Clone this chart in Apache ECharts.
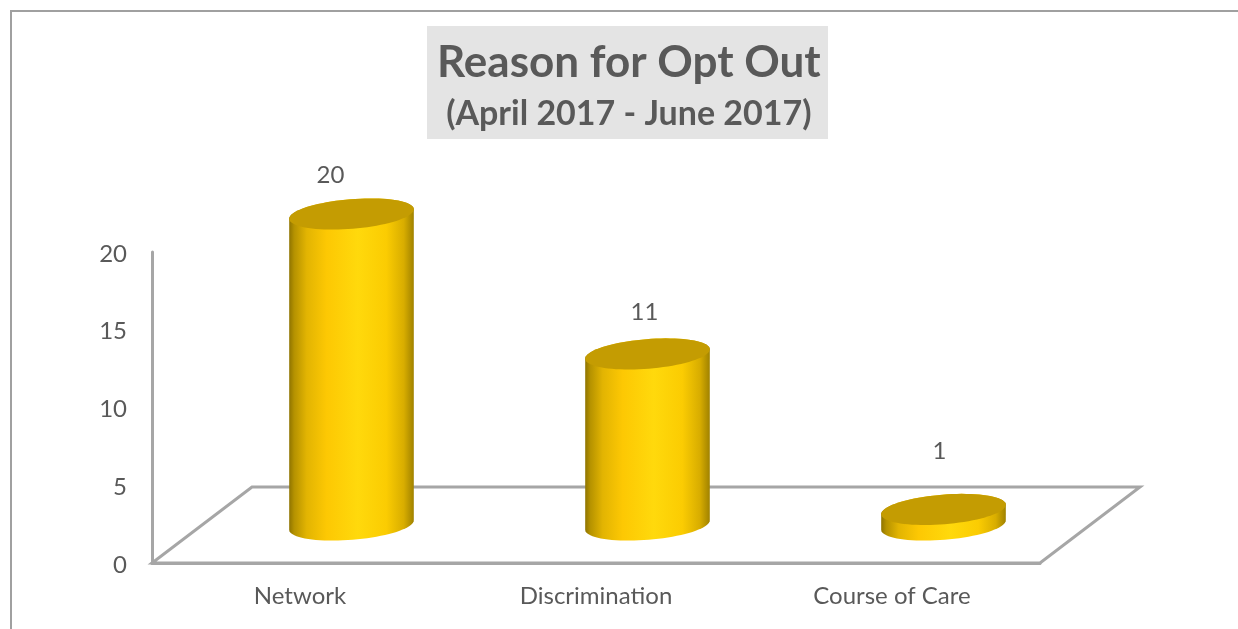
<!DOCTYPE html>
<html>
<head>
<meta charset="utf-8">
<style>html,body{margin:0;padding:0;background:#fff}#c{width:1238px;height:629px}</style>
<script src="https://cdn.jsdelivr.net/npm/echarts@6/dist/echarts.min.js"></script>
</head>
<body>
<div id="c"></div>
<script>
const titleMain = 'Reason for Opt Out';
const titleSub = '(April 2017 - June 2017)';
const categories = ['Network', 'Discrimination', 'Course of Care'];
const values = [20, 11, 1];
const yTicks = { min: 0, max: 20, interval: 5 };

// depth projection of the fake-3D floor and cylinders (pixels)
const layout = {
  depthX: 100, depthY: 76,
  barDX: 51.5, barDY: 38,
  rx: 62.5, ry: 14.8, tilt: -4.6 * Math.PI / 180,
  labelDX: [-21, -3, -4], labelDY: [-39, -42, -58]
};
const FONT = 'Lato';
const TXT = '#595959';
const LINE = '#a6a6a6';

function ellipsePts(cx, cy, from, to, n) {
  const pts = [], c = Math.cos(layout.tilt), s = Math.sin(layout.tilt);
  for (let i = 0; i <= n; i++) {
    const t = from + (to - from) * i / n;
    const ex = layout.rx * Math.cos(t), ey = layout.ry * Math.sin(t);
    pts.push([cx + ex * c - ey * s, cy + ex * s + ey * c]);
  }
  return pts;
}
const bodyFill = {
  type: 'linear', x: 0, y: 0, x2: 1, y2: 0,
  colorStops: [
    { offset: 0, color: '#8f7400' }, { offset: 0.04, color: '#b59200' },
    { offset: 0.14, color: '#e2b402' }, { offset: 0.3, color: '#fdc803' },
    { offset: 0.55, color: '#ffd90c' }, { offset: 0.78, color: '#fbcc02' },
    { offset: 0.92, color: '#d8ad00' }, { offset: 1, color: '#a08200' }
  ]
};

function renderCylinder(params, api) {
  const i = api.value(0), v = api.value(1);
  const top = api.coord([i, v]), base = api.coord([i, 0]);
  const cx = base[0] + layout.barDX, by = base[1] - layout.barDY, ty = top[1] - layout.barDY;
  const body = ellipsePts(cx, by, 0, Math.PI, 40).concat(ellipsePts(cx, ty, Math.PI, 2 * Math.PI, 40));
  return {
    type: 'group',
    children: [
      { type: 'polygon', shape: { points: body }, style: { fill: bodyFill } },
      { type: 'polygon', shape: { points: ellipsePts(cx, ty, 0, 2 * Math.PI, 80) }, style: { fill: '#c49c02' } },
      { type: 'text', x: cx + layout.labelDX[i], y: ty + layout.labelDY[i],
        style: { text: String(v), fill: TXT, font: '24px ' + FONT, align: 'center', verticalAlign: 'middle' } }
    ]
  };
}
function renderFloor(params, api) {
  const cs = params.coordSys, y0 = cs.y + cs.height, x0 = cs.x, x1 = cs.x + cs.width;
  return {
    type: 'polygon',
    shape: { points: [[x0, y0], [x1, y0], [x1 + layout.depthX, y0 - layout.depthY], [x0 + layout.depthX, y0 - layout.depthY]] },
    style: { fill: 'none', stroke: LINE, lineWidth: 3 }
  };
}

const chart = echarts.init(document.getElementById('c'), null, { renderer: 'canvas' });
chart.setOption({
  animation: false,
  backgroundColor: '#ffffff',
  title: {
    text: '{a|' + titleMain + '}\n{b|' + titleSub + '}',
    left: 437, top: 34,
    padding: 0,
    textStyle: {
      rich: {
        a: { fontFamily: FONT, fontWeight: 'bold', fontSize: 44, color: TXT, lineHeight: 58, align: 'center' },
        b: { fontFamily: FONT, fontWeight: 'bold', fontSize: 34, color: TXT, lineHeight: 45, align: 'center' }
      }
    }
  },
  graphic: [{
    type: 'polyline', silent: true, z: -1,
    shape: { points: [[11, 640], [11, 11], [1238, 11]] },
    style: { fill: 'none', stroke: '#a0a0a0', lineWidth: 2 }
  }, {
    type: 'rect', silent: true, z: -1,
    shape: { x: 427, y: 26, width: 401, height: 113 },
    style: { fill: '#e4e4e4' }
  }],
  grid: { left: 152, right: 198, top: 252, bottom: 66, containLabel: false },
  xAxis: {
    type: 'category', data: categories, boundaryGap: true,
    axisLine: { show: true, lineStyle: { color: LINE, width: 3 } },
    axisTick: { show: false },
    axisLabel: { margin: 21, fontFamily: FONT, fontSize: 24, color: TXT }
  },
  yAxis: {
    type: 'value', min: yTicks.min, max: yTicks.max, interval: yTicks.interval,
    axisLine: { show: true, lineStyle: { color: LINE, width: 3 } },
    axisTick: { show: false },
    splitLine: { show: false },
    axisLabel: { margin: 25, fontFamily: FONT, fontSize: 24, color: TXT, verticalAlign: 'top', lineHeight: 4 }
  },
  series: [
    { type: 'custom', name: 'floor', silent: true, z: 1, clip: false, renderItem: renderFloor, data: [[0, 0]], encode: { x: 0, y: 1 } },
    { type: 'custom', name: 'Opt Out', z: 2, clip: false, renderItem: renderCylinder,
      data: categories.map((c, i) => [i, values[i]]), encode: { x: 0, y: 1 } }
  ]
});
</script>
</body>
</html>
